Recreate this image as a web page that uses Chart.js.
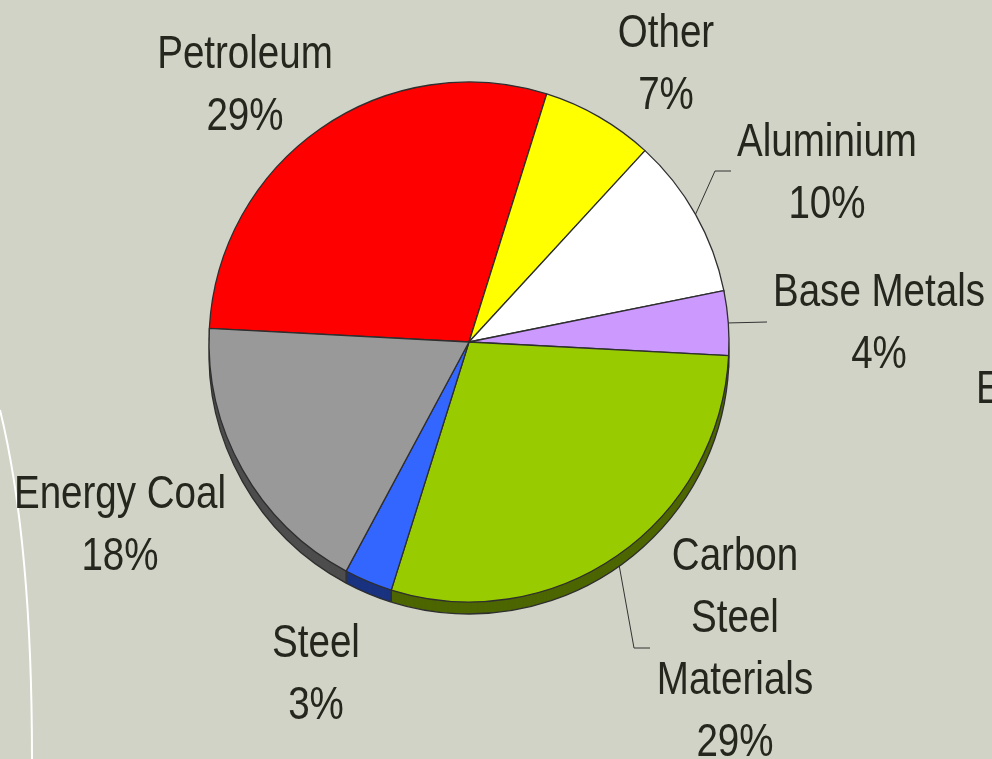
<!DOCTYPE html>
<html>
<head>
<meta charset="utf-8">
<script src="https://cdn.jsdelivr.net/npm/chart.js@4.4.0/dist/chart.umd.min.js"></script>
<style>
  html, body { margin: 0; padding: 0; background: #d1d3c6; overflow: hidden; }
  #pieChart { display: block; }
</style>
</head>
<body>
<canvas id="pieChart" width="992" height="759"></canvas>
<script>
// data
const categories = ['Petroleum', 'Other', 'Aluminium', 'Base Metals', 'Carbon Steel Materials', 'Steel', 'Energy Coal'];
const shares = [29, 7, 10, 4, 29, 3, 18];
const labelLines = [['Petroleum'], ['Other'], ['Aluminium'], ['Base Metals'], ['Carbon', 'Steel', 'Materials'], ['Steel'], ['Energy Coal']];
const cutLabel = 'E';

// styling
const sliceColors = ['#ff0000', '#ffff00', '#ffffff', '#cc99ff', '#99cc00', '#3366ff', '#999999'];
const sideColors = ['#800000', '#808000', '#808080', '#664d80', '#4d6600', '#1a3380', '#4d4d4d'];
const textColor = '#25271e';
const depth = 12;
const lineGap = 62;

// label anchors (first baseline) relative to the pie centre
const labelOffsets = [[-224, -274], [197, -295], [358, -186], [410, -36], [266, 228], [-153, 315], [-349, 166]];
const leaderBends = [null, null, [[246, -171], [262, -171]], [[298, -20]], [[165, 306], [181, 306]], null, null];
const cutLabelOffset = [507, 61];

function pickFont() {
  const c = document.createElement('canvas').getContext('2d');
  c.font = '47px "Liberation Sans Narrow"';
  const narrow = c.measureText('Petroleum Energy').width;
  c.font = '47px "Liberation Sans"';
  const wide = c.measureText('Petroleum Energy').width;
  if (narrow < wide * 0.9) return { family: '"Liberation Sans Narrow"', sx: 1 };
  return { family: '"Liberation Sans", Arial, sans-serif', sx: 0.82 };
}
const labelFont = pickFont();

function drawText(ctx, text, x, y, align) {
  ctx.save();
  ctx.translate(x, y);
  ctx.scale(labelFont.sx, 1);
  ctx.textAlign = align || 'center';
  ctx.fillText(text, 0, 0);
  ctx.restore();
}

const pie3d = {
  id: 'pie3d',
  beforeDraw(chart) {
    const ctx = chart.ctx;
    ctx.save();
    ctx.fillStyle = '#d1d3c6';
    ctx.fillRect(0, 0, chart.width, chart.height);
    // white swoosh on the left
    ctx.strokeStyle = '#ffffff';
    ctx.lineWidth = 2;
    ctx.beginPath();
    ctx.moveTo(0, 410);
    ctx.bezierCurveTo(22, 500, 32, 620, 32, chart.height);
    ctx.stroke();
    ctx.restore();
  },
  beforeDatasetsDraw(chart) {
    const ctx = chart.ctx;
    const arcs = chart.getDatasetMeta(0).data;
    ctx.save();
    // leader lines
    ctx.strokeStyle = '#333333';
    ctx.lineWidth = 1;
    arcs.forEach((a, i) => {
      if (!leaderBends[i]) return;
      const mid = (a.startAngle + a.endAngle) / 2;
      ctx.beginPath();
      ctx.moveTo(a.x + Math.cos(mid) * a.outerRadius, a.y + Math.sin(mid) * a.outerRadius);
      leaderBends[i].forEach(p => ctx.lineTo(a.x + p[0], a.y + p[1]));
      ctx.stroke();
    });
    // extruded side
    for (let d = depth; d >= 1; d--) {
      arcs.forEach((a, i) => {
        ctx.fillStyle = sideColors[i];
        ctx.beginPath();
        ctx.moveTo(a.x, a.y + d);
        ctx.arc(a.x, a.y + d, a.outerRadius, a.startAngle, a.endAngle);
        ctx.closePath();
        ctx.fill();
      });
    }
    ctx.strokeStyle = '#2e2e2e';
    ctx.lineWidth = 1.3;
    arcs.forEach(a => {
      ctx.beginPath();
      ctx.arc(a.x, a.y + depth, a.outerRadius, a.startAngle, a.endAngle);
      ctx.stroke();
      const px = a.x + Math.cos(a.startAngle) * a.outerRadius;
      const py = a.y + Math.sin(a.startAngle) * a.outerRadius;
      ctx.beginPath();
      ctx.moveTo(px, py);
      ctx.lineTo(px, py + depth);
      ctx.stroke();
    });
    ctx.restore();
  },
  afterDatasetsDraw(chart) {
    const ctx = chart.ctx;
    const arcs = chart.getDatasetMeta(0).data;
    const cx = arcs[0].x, cy = arcs[0].y;
    ctx.save();
    ctx.fillStyle = textColor;
    ctx.font = '47px ' + labelFont.family;
    ctx.textBaseline = 'alphabetic';
    labelLines.forEach((lines, i) => {
      const x = cx + labelOffsets[i][0];
      let y = cy + labelOffsets[i][1];
      lines.concat([shares[i] + '%']).forEach(t => {
        drawText(ctx, t, x, y);
        y += lineGap;
      });
    });
    drawText(ctx, cutLabel, cx + cutLabelOffset[0], cy + cutLabelOffset[1], 'left');
    ctx.restore();
  }
};

new Chart(document.getElementById('pieChart'), {
  type: 'pie',
  data: {
    labels: categories,
    datasets: [{
      data: shares,
      backgroundColor: sliceColors,
      borderColor: '#2e2e2e',
      borderWidth: 1.3,
      radius: 260
    }]
  },
  options: {
    responsive: false,
    animation: false,
    rotation: -87,
    layout: { padding: { top: 82, bottom: 157, left: 0, right: 54 } },
    plugins: {
      legend: { display: false },
      tooltip: { enabled: false }
    }
  },
  plugins: [pie3d]
});
</script>
</body>
</html>
